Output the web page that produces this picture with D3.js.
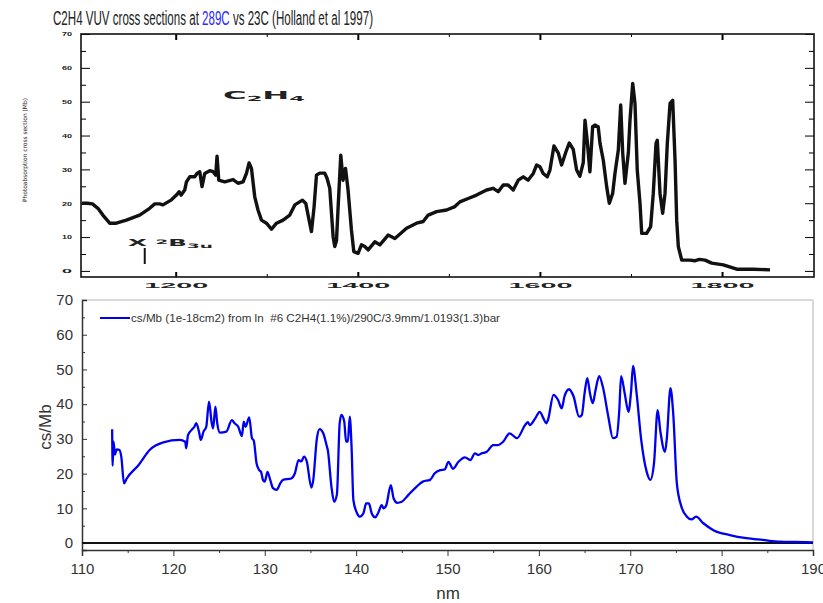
<!DOCTYPE html>
<html>
<head>
<meta charset="utf-8">
<script src="https://cdn.jsdelivr.net/npm/d3@7"></script>
<style>
  body { margin: 0; background: #fff; }
  svg { display: block; }
</style>
</head>
<body>
<svg class="chart"></svg>
<script>
// --- data ---
// top panel: scanned Holland et al 1997 curve, wavelength in Angstrom, cross section in Mb
var hollandA = [1097, 1103, 1108.5, 1114.6, 1120, 1127.5, 1134.8, 1145.8, 1160.4, 1171.4, 1177, 1182.4, 1186, 1191.6, 1195.3,
  1200.8, 1203.7, 1206, 1209.9, 1211.8, 1215.4, 1220.9, 1223.4, 1226.4, 1228.9, 1231.9, 1237.4, 1241, 1244, 1245.4, 1247.3,
  1253.8, 1263, 1268.5, 1274, 1277.7, 1280.6, 1283.2, 1286.8, 1290.4, 1294.2, 1299.7, 1305.2, 1310.7, 1317.9, 1325.3, 1330.8,
  1339.2, 1342.9, 1346.5, 1349.1, 1352, 1354.6, 1358.2, 1363.7, 1366.3, 1369.2, 1372.9, 1374.7, 1376.6, 1378.4, 1381.3, 1383.8,
  1386.5, 1389.3, 1393, 1395.6, 1400.3, 1404, 1407.7, 1411.3, 1418.7, 1424.2, 1433.3, 1440.7, 1453.5, 1464.5, 1471.8, 1477.3,
  1486.5, 1497.5, 1506.6, 1512.1, 1521.2, 1530.4, 1541.4, 1548.7, 1554.2, 1559.7, 1565, 1570.7, 1576.2, 1581.7, 1587, 1592.7,
  1596.4, 1600, 1603.6, 1608, 1611, 1615.4, 1620.1, 1623.8, 1628.6, 1632.2, 1636.6, 1640.3, 1643.9, 1647.6, 1649.5, 1652,
  1654.9, 1657.9, 1660.4, 1664, 1666, 1669.6, 1673.3, 1676.2, 1679.9, 1682.4, 1686.1, 1688.7, 1690.9, 1693.4, 1697.1, 1698.9,
  1701.9, 1704.4, 1706.9, 1709.9, 1711.8, 1717.2, 1721.6, 1724.5, 1727.5, 1728.9, 1731.9, 1734.8, 1737.4, 1739.9, 1742.9,
  1745.8, 1748.4, 1750.2, 1752, 1755.7, 1764.8, 1770, 1775, 1781.3, 1788.7, 1801.4, 1816.2, 1834.4, 1852.7];
var hollandMb = [20, 20, 19.8, 18.5, 16.5, 14.1, 14.1, 15, 16.5, 18.5, 19.8, 19.8, 19.5, 20.4, 21,
  22.4, 23.4, 22.4, 23.9, 26.3, 27.8, 27.8, 28.8, 29.3, 24.9, 28.8, 29.6, 29.3, 28.3, 33.9, 26.8,
  26.3, 27, 25.9, 26.3, 28.8, 31.9, 30.3, 21.9, 18, 15, 14.1, 12.3, 14.1, 15, 16.5, 19.5,
  20.9, 19.9, 15, 11.6, 19, 28.3, 28.9, 28.9, 27.3, 24.4, 10.1, 7.2, 9, 19, 34.2, 26.8,
  30.3, 23.9, 12.1, 5.7, 5.2, 7.7, 7.2, 6.2, 8.6, 7.7, 10.6, 9.6, 12.6, 14.1, 14.6, 16.5,
  17.5, 18, 19, 20.4, 21.4, 22.4, 23.9, 24.4, 23.4, 25.4, 25.4, 23.9, 26.8, 27.8, 26.8, 28.8,
  31.3, 30.8, 28.8, 27.8, 29.8, 36.9, 34.9, 31.3, 35.2, 37.8, 35.9, 29.8, 28, 32, 44.5, 38.3,
  29.3, 42.6, 43.1, 42.6, 37.7, 32.7, 24.9, 20, 22.9, 28.8, 35.7, 49, 34.9, 25.9, 34.9, 44.5,
  55.4, 49.5, 29.8, 20, 11.1, 11.1, 13.1, 22.9, 37.7, 38.6, 22.9, 17, 22.9, 37.7, 49.5,
  50.4, 32.7, 15, 7.2, 3.2, 3.2, 3, 3.4, 3.2, 2.3, 1.8, 0.5, 0.5, 0.3];

// bottom panel: measured cs/Mb at 290C, wavelength in nm
var measNm = [113.3, 113.35, 113.45, 113.6, 113.8, 114.1, 114.3, 114.6, 114.9, 116.2, 117.4, 118.9, 120.7, 121.3, 121.4,
  121.6, 122, 122.3, 122.5, 122.8, 123, 123.3, 123.6, 123.9, 124.2, 124.35, 124.6, 124.8, 125.1, 125.8, 126.4, 126.7,
  127.1, 127.5, 127.7, 127.9, 128.3, 128.6, 128.8, 129.1, 129.4, 129.6, 129.8, 130, 130.3, 130.6, 130.9, 131.3, 131.7,
  132, 132.9, 133.3, 133.7, 134, 134.3, 134.6, 135.1, 135.3, 135.7, 136, 136.4, 136.8, 136.9, 137.3, 137.6, 137.9,
  138.2, 138.4, 138.7, 138.9, 139.1, 139.3, 139.5, 139.7, 140.1, 140.4, 140.8, 141.1, 141.4, 141.7, 142.1, 142.4,
  142.8, 143, 143.3, 143.8, 144.1, 144.5, 145, 145.7, 146.6, 147.3, 148.1, 148.6, 149.2, 149.7, 150.1, 150.6, 151.2,
  151.9, 152.5, 153, 153.4, 153.7, 154.3, 155, 155.5, 156.1, 156.8, 157.6, 158.5, 158.8, 159, 159.6, 160.1, 160.5,
  160.8, 161, 161.6, 162.1, 162.5, 162.8, 163.3, 163.8, 164.4, 164.7, 165, 165.3, 165.6, 165.9, 166.2, 166.6, 167,
  167.6, 168.1, 168.5, 168.8, 169, 169.4, 169.8, 170.1, 170.3, 170.7, 171.2, 171.8, 172.2, 172.6, 173, 173.3, 173.8,
  174, 174.4, 174.7, 175.1, 175.6, 176.2, 176.7, 177.2, 178, 179.1, 180.9, 182.7, 184.5, 186.4, 188, 190];
var measCs = [32.8, 22.3, 29.2, 25.5, 27, 26.8, 24.9, 17.2, 18.6, 22.5, 26.8, 29, 29.7, 29.2, 27.3,
  31.1, 32.6, 33.5, 34.5, 32.1, 29.7, 32.1, 33.5, 40.7, 34.5, 33, 39.3, 34.5, 31.8, 32.1, 35.4, 34.5,
  33.5, 30.8, 35, 33.5, 36.2, 30.2, 29.5, 23, 21, 20.5, 18.2, 17.7, 20.5, 18.2, 15.8, 15.3, 17.2,
  18.2, 18.6, 20.1, 23.9, 23.5, 24.9, 23.5, 16, 18, 30, 32.8, 31.6, 27.8, 26.8, 16.2, 11.9, 14.1,
  34.5, 36.9, 35, 29.2, 29.2, 36.4, 27.8, 12.4, 8.6, 7.6, 8.6, 11.4, 11.4, 8.6, 7.4, 8.6,
  10.9, 10, 10.9, 16.7, 12.9, 11.6, 11.9, 13.8, 16.2, 17.7, 18.2, 20.1, 21, 21.2, 23.4, 21.4, 23.4,
  24.7, 23.9, 25.8, 25.4, 25.8, 26.3, 28.2, 28.2, 29.2, 31.6, 30.2, 34, 34.8, 34, 35.9, 37.8, 35.9,
  34.5, 35.5, 42.7, 41.2, 38.8, 42.2, 44.3, 42.2, 36.4, 36.9, 43.1, 47.5, 43, 40.3, 44, 48.1, 45,
  36.4, 30.2, 30.6, 38.3, 48.1, 43, 37.8, 44, 51, 43, 29.7, 20.5, 18.2, 23, 38.3, 32.1, 26.3,
  30, 44.6, 37.4, 17.2, 10.5, 7.6, 6.8, 7.6, 5.7, 3.7, 2.3, 1.4, 0.9, 0.4, 0.3, 0.2];

var topXTicks = [1200, 1400, 1600, 1800];
var topXMinor = [1300, 1500, 1700];
var topYTicks = [0, 10, 20, 30, 40, 50, 60, 70];
var botXTicks = [110, 120, 130, 140, 150, 160, 170, 180, 190];
var botYTicks = [0, 10, 20, 30, 40, 50, 60, 70];

var legendText = "cs/Mb (1e-18cm2) from ln\u00a0 #6 C2H4(1.1%)/290C/3.9mm/1.0193(1.3)bar";

const svg = d3.select('.chart').attr('width', 823).attr('height', 603);

/** title **/
var title = svg.append('text')
  .attr('x', 53).attr('y', 25)
  .attr('textLength', 320).attr('lengthAdjust', 'spacingAndGlyphs')
  .style('font-family', '"Liberation Sans Narrow", "Liberation Sans", Arial, sans-serif')
  .style('font-size', '19.5px').attr('fill', '#222');
title.append('tspan').text('C2H4 VUV cross sections at ');
title.append('tspan').attr('fill', '#2b2bff').text('289C');
title.append('tspan').text(' vs 23C (Holland et al 1997)');

/** top panel (scanned figure) **/
var tx = d3.scaleLinear().domain([1096, 1901]).range([81, 814]);
var ty = d3.scaleLinear().domain([-1.8, 70]).range([277, 34]);
var topG = svg.append('g').style('font-family', '"DejaVu Sans", sans-serif');

topG.append('g').attr('transform', 'translate(81,0)')
  .call(d3.axisLeft(ty).tickValues(topYTicks).tickSize(-9).tickPadding(9).tickFormat(d3.format('d')))
  .call(g => g.select('.domain').remove())
  .call(g => g.selectAll('text').attr('textLength', 10).attr('lengthAdjust', 'spacingAndGlyphs')
    .style('font-size', '6px').style('font-weight', 'bold').attr('fill', '#222'));
topG.append('g').attr('transform', 'translate(81,0)')
  .call(d3.axisLeft(ty).tickValues(d3.range(5, 70, 10)).tickSize(-5).tickFormat(''))
  .call(g => g.select('.domain').remove());
topG.append('g').attr('transform', 'translate(814,0)')
  .call(d3.axisRight(ty).tickValues(topYTicks).tickSize(-9).tickFormat(''))
  .call(g => g.select('.domain').remove());
topG.append('g').attr('transform', 'translate(814,0)')
  .call(d3.axisRight(ty).tickValues(d3.range(5, 70, 10)).tickSize(-5).tickFormat(''))
  .call(g => g.select('.domain').remove());

topG.append('g').attr('transform', 'translate(0,277)')
  .call(d3.axisBottom(tx).tickValues(topXTicks).tickSize(-5).tickPadding(5).tickFormat(d3.format('d')))
  .call(g => g.select('.domain').remove())
  .call(g => g.selectAll('line').attr('stroke-width', 2))
  .call(g => g.selectAll('text').attr('textLength', 64).attr('lengthAdjust', 'spacingAndGlyphs')
    .style('font-size', '8px').style('font-weight', 'bold').attr('fill', '#222'));
topG.append('g').attr('transform', 'translate(0,277)')
  .call(d3.axisBottom(tx).tickValues(topXMinor).tickSize(-3).tickFormat(''))
  .call(g => g.select('.domain').remove());
topG.append('g').attr('transform', 'translate(0,34)')
  .call(d3.axisTop(tx).tickValues(topXTicks).tickSize(-6).tickFormat(''))
  .call(g => g.select('.domain').remove())
  .call(g => g.selectAll('line').attr('stroke-width', 2));
topG.append('g').attr('transform', 'translate(0,34)')
  .call(d3.axisTop(tx).tickValues(topXMinor).tickSize(-3).tickFormat(''))
  .call(g => g.select('.domain').remove());

topG.append('rect').attr('x', 81).attr('y', 34).attr('width', 733).attr('height', 243)
  .attr('fill', 'none').attr('stroke', '#111').attr('stroke-width', 1.6);

topG.append('text')
  .attr('transform', 'translate(27,150) rotate(-90)')
  .attr('text-anchor', 'middle')
  .attr('textLength', 104).attr('lengthAdjust', 'spacingAndGlyphs')
  .style('font-size', '6px').attr('fill', '#222')
  .text('Photoabsorption cross section (Mb)');

var hollandData = hollandA.map((a, i) => ({x: a, y: hollandMb[i]}));
topG.append('path').datum(hollandData)
  .attr('fill', 'none').attr('stroke', '#111').attr('stroke-width', 3.4)
  .attr('stroke-linejoin', 'round')
  .attr('d', d3.line().x(d => tx(d.x)).y(d => ty(d.y)));

// annotations on the scanned figure
var c2h4 = topG.append('text').attr('x', 223).attr('y', 99)
  .attr('textLength', 82).attr('lengthAdjust', 'spacingAndGlyphs')
  .style('font-size', '10px').style('font-weight', 'bold').attr('fill', '#222');
c2h4.append('tspan').text('C');
c2h4.append('tspan').attr('dy', 2).style('font-size', '7px').text('2');
c2h4.append('tspan').attr('dy', -2).text('H');
c2h4.append('tspan').attr('dy', 2).style('font-size', '7px').text('4');

var xb = topG.append('text').attr('x', 128).attr('y', 246)
  .attr('textLength', 85).attr('lengthAdjust', 'spacingAndGlyphs')
  .style('font-size', '8px').style('font-weight', 'bold').attr('fill', '#222');
xb.append('tspan').text('X ');
xb.append('tspan').attr('dy', -2).style('font-size', '6px').text('2');
xb.append('tspan').attr('dy', 2).text('B');
xb.append('tspan').attr('dy', 2).style('font-size', '6px').text('3u');
topG.append('line').attr('x1', tx(1166)).attr('x2', tx(1166)).attr('y1', 248).attr('y2', 264)
  .attr('stroke', '#111').attr('stroke-width', 2);

/** bottom panel **/
var x = d3.scaleLinear().domain([110, 190]).range([82, 813]);
var y = d3.scaleLinear().domain([-2, 70]).range([550, 300]);
var bot = svg.append('g').style('font-family', '"Liberation Sans", Arial, sans-serif');

bot.append('line').attr('x1', 82).attr('x2', 813).attr('y1', 300).attr('y2', 300)
  .attr('stroke', '#ccc').attr('stroke-width', 1.5);
bot.append('line').attr('x1', 813).attr('x2', 813).attr('y1', 300).attr('y2', 550)
  .attr('stroke', '#ccc').attr('stroke-width', 1.5);

bot.append('g').attr('transform', 'translate(82,0)')
  .call(d3.axisLeft(y).tickValues(botYTicks).tickSize(-5).tickPadding(9))
  .call(g => g.select('.domain').attr('stroke', '#333').attr('stroke-width', 1.5))
  .call(g => g.selectAll('line').attr('stroke', '#333'))
  .call(g => g.selectAll('text').style('font-size', '15px').attr('fill', '#333'));
bot.append('g').attr('transform', 'translate(82,0)')
  .call(d3.axisLeft(y).tickValues(d3.range(5, 70, 10)).tickSize(-3).tickFormat(''))
  .call(g => g.select('.domain').remove())
  .call(g => g.selectAll('line').attr('stroke', '#333'));

bot.append('g').attr('transform', 'translate(0,550)')
  .call(d3.axisBottom(x).tickValues(botXTicks).tickSize(6).tickPadding(7))
  .call(g => g.select('.domain').attr('stroke', '#333').attr('stroke-width', 1.5))
  .call(g => g.selectAll('line').attr('stroke', '#333'))
  .call(g => g.selectAll('text').style('font-size', '15px').attr('fill', '#333'));
bot.append('g').attr('transform', 'translate(0,550)')
  .call(d3.axisBottom(x).tickValues(d3.range(115, 190, 10)).tickSize(3).tickFormat(''))
  .call(g => g.select('.domain').remove())
  .call(g => g.selectAll('line').attr('stroke', '#333'));

// zero line
bot.append('line').attr('x1', 82).attr('x2', 813).attr('y1', y(0)).attr('y2', y(0))
  .attr('stroke', '#111').attr('stroke-width', 2);

bot.append('text').attr('x', 448).attr('y', 599).attr('text-anchor', 'middle')
  .style('font-size', '17px').attr('fill', '#333').text('nm');
bot.append('text').attr('transform', 'translate(51,427) rotate(-90)').attr('text-anchor', 'middle')
  .style('font-size', '17px').attr('fill', '#333').text('cs/Mb');

var measData = measNm.map((n, i) => ({x: n, y: measCs[i]}));
bot.append('path').datum(measData)
  .attr('fill', 'none').attr('stroke', '#0000f0').attr('stroke-width', 2.3)
  .attr('stroke-linejoin', 'round')
  .attr('d', d3.line().curve(d3.curveMonotoneX).x(d => x(d.x)).y(d => y(d.y)));

// legend
bot.append('line').attr('x1', 100).attr('x2', 130).attr('y1', 318).attr('y2', 318)
  .attr('stroke', '#0000f0').attr('stroke-width', 2);
bot.append('text').attr('x', 131).attr('y', 322)
  .attr('textLength', 369).attr('lengthAdjust', 'spacingAndGlyphs')
  .style('font-size', '11px').attr('fill', '#333').text(legendText);
</script>
</body>
</html>
